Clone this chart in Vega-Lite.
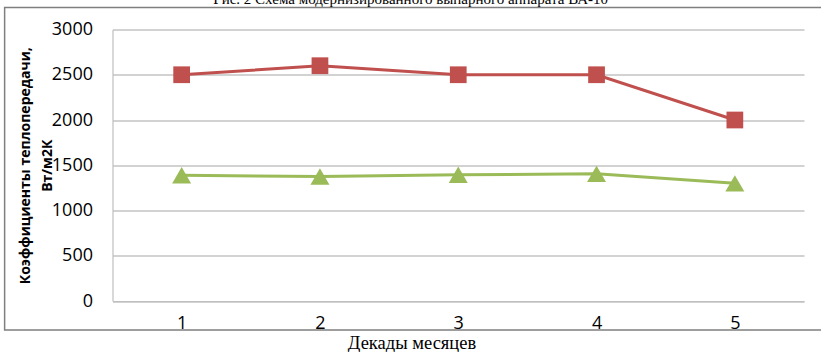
{
  "$schema": "https://vega.github.io/schema/vega-lite/v6.json",
  "autosize": "none",
  "width": 691.5,
  "height": 271.5,
  "padding": {"left": 112.5, "top": 29.5, "right": 17, "bottom": 51},
  "background": "white",
  "config": {
    "view": {"stroke": null},
    "axis": {
      "labelFont": "Open Sans",
      "labelFontSize": 18,
      "labelColor": "#000000",
      "ticks": false,
      "domainColor": "#bfbfbf",
      "domainWidth": 1.2
    }
  },
  "data": {
    "values": [
      {"decade": 1, "series": "модернизированный", "value": 2500},
      {"decade": 2, "series": "модернизированный", "value": 2600},
      {"decade": 3, "series": "модернизированный", "value": 2500},
      {"decade": 4, "series": "модернизированный", "value": 2500},
      {"decade": 5, "series": "модернизированный", "value": 2000},
      {"decade": 1, "series": "исходный", "value": 1390},
      {"decade": 2, "series": "исходный", "value": 1375},
      {"decade": 3, "series": "исходный", "value": 1395},
      {"decade": 4, "series": "исходный", "value": 1405},
      {"decade": 5, "series": "исходный", "value": 1300}
    ]
  },
  "layer": [
    {
      "data": {"values": [{}]},
      "mark": {"type": "rect", "fill": null, "stroke": "#7f7f7f", "strokeWidth": 1.5},
      "encoding": {
        "x": {"datum": -0.28, "type": "quantitative", "scale": {"domain": [0.5, 5.5], "nice": false, "zero": false}},
        "x2": {"datum": 6.2},
        "y": {"datum": 3243, "type": "quantitative", "scale": {"domain": [0, 3000], "nice": false}},
        "y2": {"datum": -320}
      }
    },
    {
      "data": {"values": [{"caption": "Рис. 2 Схема модернизированного выпарного аппарата ВА-10"}]},
      "mark": {
        "type": "text",
        "font": "Liberation Serif",
        "fontSize": 15,
        "color": "#000000",
        "align": "center",
        "baseline": "alphabetic"
      },
      "encoding": {
        "x": {"datum": 2.656, "type": "quantitative"},
        "y": {"datum": 3287, "type": "quantitative"},
        "text": {"field": "caption", "type": "nominal"}
      }
    },
    {
      "mark": {"type": "line", "strokeWidth": 3},
      "encoding": {
        "x": {
          "field": "decade",
          "type": "quantitative",
          "scale": {"domain": [0.5, 5.5], "nice": false, "zero": false},
          "axis": {
            "values": [1, 2, 3, 4, 5],
            "format": "d",
            "grid": false,
            "labelPadding": 13,
            "title": "Декады месяцев",
            "titleFont": "Liberation Serif",
            "titleFontSize": 18.5,
            "titleFontWeight": "normal",
            "titleColor": "#000000",
            "titleX": 299,
            "titleY": 41,
            "titleBaseline": "middle"
          }
        },
        "y": {
          "field": "value",
          "type": "quantitative",
          "scale": {"domain": [0, 3000], "nice": false},
          "axis": {
            "values": [0, 500, 1000, 1500, 2000, 2500, 3000],
            "format": "d",
            "grid": true,
            "gridColor": "#a6a6a6",
            "gridWidth": 1.2,
            "labelPadding": 20,
            "title": ["Коэффициенты теплопередачи,", "Вт/м2К"],
            "titleFont": "Open Sans",
            "titleFontSize": 14,
            "titleFontWeight": "bold",
            "titleColor": "#000000",
            "titleLineHeight": 22,
            "titleX": -80,
            "titleBaseline": "bottom"
          }
        },
        "color": {
          "field": "series",
          "type": "nominal",
          "scale": {"domain": ["модернизированный", "исходный"], "range": ["#c0504d", "#9bbb59"]},
          "legend": null
        }
      }
    },
    {
      "mark": {"type": "point", "filled": true, "opacity": 1},
      "encoding": {
        "x": {"field": "decade", "type": "quantitative"},
        "y": {"field": "value", "type": "quantitative"},
        "color": {"field": "series", "type": "nominal", "legend": null},
        "shape": {
          "field": "series",
          "type": "nominal",
          "scale": {"domain": ["модернизированный", "исходный"], "range": ["square", "triangle-up"]},
          "legend": null
        },
        "size": {
          "field": "series",
          "type": "nominal",
          "scale": {"domain": ["модернизированный", "исходный"], "range": [280, 360]},
          "legend": null
        }
      }
    }
  ]
}
